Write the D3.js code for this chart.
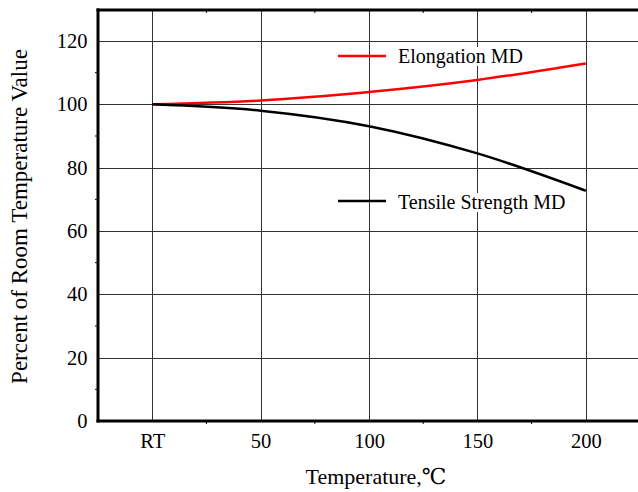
<!DOCTYPE html>
<html><head><meta charset="utf-8">
<script src="https://cdn.jsdelivr.net/npm/d3@7"></script>
<style>html,body{margin:0;padding:0;background:#fff;}svg{display:block;} text{font-family:"Liberation Serif","Times New Roman",Times,"DejaVu Serif",serif;}</style>
</head><body>
<script>
const temps = [0, 50, 100, 150, 200];
const tickLabels = ["RT", "50", "100", "150", "200"];
const elongation = [100, 101.2, 103.9, 107.7, 112.9];
const tensile = [100, 98.0, 93.1, 84.5, 72.7];
const yTicks = [0, 20, 40, 60, 80, 100, 120];
const seriesNames = ["Elongation MD", "Tensile Strength MD"];
const seriesColors = ["#ff0000", "#000000"];

const W = 638, H = 492;
const svg = d3.select("body").append("svg").attr("width", W).attr("height", H);
const font = "Liberation Serif, Times New Roman, Times, DejaVu Serif, serif";

const x = d3.scaleLinear().domain([-25, 225]).range([98, 640]);
const y = d3.scaleLinear().domain([0, 120]).range([421, 41]);
const plotTop = 10;

// grid
const g = svg.append("g");
g.selectAll("line.hg").data(yTicks.filter(d => d > 0)).join("line")
  .attr("x1", x(-25)).attr("x2", W).attr("y1", d => Math.round(y(d)) + 0.5).attr("y2", d => Math.round(y(d)) + 0.5)
  .attr("stroke", "#333").attr("stroke-width", 1);
g.selectAll("line.vg").data(temps).join("line")
  .attr("x1", d => Math.round(x(d)) + 0.5).attr("x2", d => Math.round(x(d)) + 0.5)
  .attr("y1", plotTop).attr("y2", y(0))
  .attr("stroke", "#333").attr("stroke-width", 1);

// minor ticks
const minorY = d3.range(10, 130, 20);
g.selectAll("line.my").data(minorY).join("line")
  .attr("x1", x(-25) - 3).attr("x2", x(-25)).attr("y1", d => y(d)).attr("y2", d => y(d))
  .attr("stroke", "#000").attr("stroke-width", 1);
const minorX = [25, 75, 125, 175, 225].filter(d => x(d) < W);
g.selectAll("line.mx").data(minorX).join("line")
  .attr("x1", d => x(d)).attr("x2", d => x(d)).attr("y1", y(0)).attr("y2", y(0) + 3)
  .attr("stroke", "#000").attr("stroke-width", 1);
g.selectAll("line.mt").data(minorX).join("line")
  .attr("x1", d => x(d)).attr("x2", d => x(d)).attr("y1", plotTop).attr("y2", plotTop + 3)
  .attr("stroke", "#000").attr("stroke-width", 1);

// axes
const yAxis = svg.append("g").attr("transform", `translate(${x(-25)},0)`)
  .call(d3.axisLeft(y).tickValues(yTicks).tickSize(0).tickPadding(10.5));
yAxis.attr("font-family", null).attr("font-size", null);
yAxis.select(".domain").attr("stroke", "#000").attr("stroke-width", 3).attr("d", `M0,${plotTop - 1.5}V${y(0) + 1.5}`);
yAxis.selectAll("text").style("font-family", font).style("font-size", "20.5px").attr("fill", "#000");

const xAxis = svg.append("g").attr("transform", `translate(0,${y(0)})`)
  .call(d3.axisBottom(x).tickValues(temps).tickFormat((d, i) => tickLabels[i]).tickSize(0).tickPadding(12));
xAxis.attr("font-family", null).attr("font-size", null);
xAxis.select(".domain").attr("stroke", "#000").attr("stroke-width", 3).attr("d", `M${x(-25) - 1.5},0H${W}`);
xAxis.selectAll("text").style("font-family", font).style("font-size", "20.5px").attr("fill", "#000");

// top border
svg.append("line").attr("x1", x(-25) - 1.5).attr("x2", W).attr("y1", plotTop).attr("y2", plotTop)
  .attr("stroke", "#000").attr("stroke-width", 3);

// lines
const line = d3.line().x(d => x(d[0])).y(d => y(d[1])).curve(d3.curveMonotoneX);
[elongation, tensile].forEach((vals, i) => {
  svg.append("path").datum(temps.map((t, j) => [t, vals[j]]))
    .attr("d", line).attr("fill", "none").attr("stroke", seriesColors[i]).attr("stroke-width", 2.5);
});

// legends
const legendPos = [[338, 56, 63], [338, 201, 209]];
seriesNames.forEach((name, i) => {
  const [lx, ly, ty] = legendPos[i];
  const lg = svg.append("g");
  const t = lg.append("text").attr("x", lx + 60).attr("y", ty).text(name)
    .style("font-family", font).style("font-size", "20px").attr("fill", "#000");
  const bb = t.node().getBBox();
  lg.insert("rect", "text").attr("x", bb.x - 2).attr("y", bb.y + 2).attr("width", bb.width + 4).attr("height", bb.height - 4).attr("fill", "#fff");
  lg.append("line").attr("x1", lx).attr("x2", lx + 48).attr("y1", ly).attr("y2", ly)
    .attr("stroke", seriesColors[i]).attr("stroke-width", 2.5);
});

// axis titles
svg.append("text").attr("x", 376).attr("y", 484).attr("text-anchor", "middle")
  .style("font-family", font).style("font-size", "22px").text("Temperature,℃");
svg.append("text").attr("transform", "translate(27,216.5) rotate(-90)").attr("text-anchor", "middle")
  .style("font-family", font).style("font-size", "23px").text("Percent of Room Temperature Value");
</script>
</body></html>
